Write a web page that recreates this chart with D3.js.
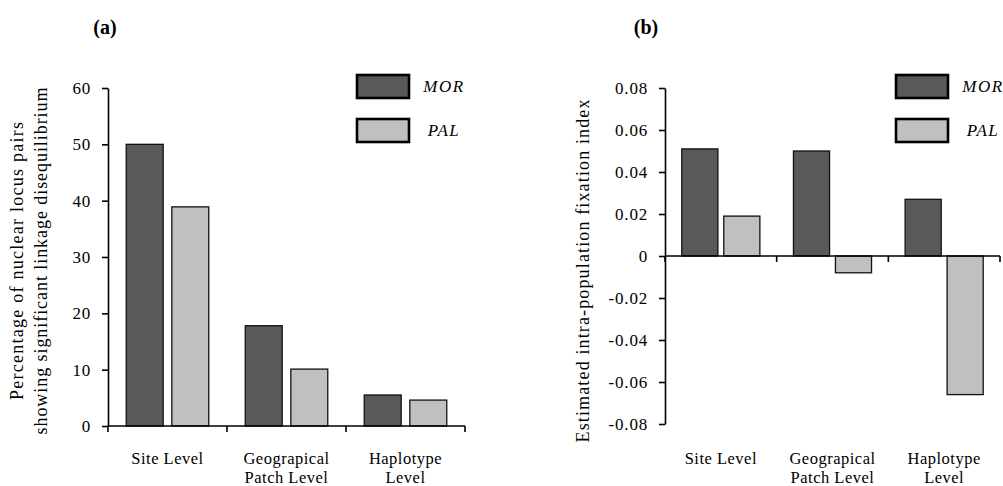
<!DOCTYPE html>
<html>
<head>
<meta charset="utf-8">
<script src="https://cdn.jsdelivr.net/npm/d3@7"></script>
<style>
  html, body { margin: 0; padding: 0; background: #fff; }
  svg { display: block; }
  text { font-family: "Liberation Serif", "Times New Roman", Times, serif; fill: #000; }
</style>
</head>
<body>
<svg id="chart" width="1003" height="486"></svg>
<script>
// Grouping levels shared by both panels
const levels = ["Site Level", "Geograpical Patch Level", "Haplotype Level"];
const levelLines = [["Site Level"], ["Geograpical", "Patch Level"], ["Haplotype", "Level"]];
const series = ["MOR", "PAL"];
const seriesColors = ["#595959", "#c0c0c0"];

// Panel (a): percentage of nuclear locus pairs in significant linkage disequilibrium
const ldMOR = [50, 17.8, 5.5];
const ldPAL = [38.9, 10.1, 4.6];
const ldTicks = [0, 10, 20, 30, 40, 50, 60];

// Panel (b): estimated intra-population fixation index
const fisMOR = [0.051, 0.050, 0.027];
const fisPAL = [0.019, -0.008, -0.066];
const fisTicks = [-0.08, -0.06, -0.04, -0.02, 0, 0.02, 0.04, 0.06, 0.08];

const svg = d3.select("#chart");
const serif = '"Liberation Serif", "Times New Roman", Times, serif';

function drawPanel(cfg) {
  const g = svg.append("g");
  const y = d3.scaleLinear().domain(cfg.domain).range([cfg.bottom, cfg.top]);
  const x0 = d3.scaleBand().domain(levels).range([cfg.left, cfg.right])
    .paddingInner(0).paddingOuter(0);
  const x1 = d3.scaleBand().domain(series).range([0, x0.bandwidth()])
    .paddingInner(cfg.padIn).paddingOuter(cfg.padOut);
  const values = [cfg.mor, cfg.pal];

  // bars
  levels.forEach((lv, i) => {
    series.forEach((s, j) => {
      const v = values[j][i];
      g.append("rect")
        .attr("x", x0(lv) + x1(s))
        .attr("width", x1.bandwidth())
        .attr("y", Math.min(y(v), y(0)))
        .attr("height", Math.abs(y(v) - y(0)))
        .attr("fill", seriesColors[j])
        .attr("stroke", "#111")
        .attr("stroke-width", 1.3);
    });
  });

  // y axis
  const yAxis = d3.axisLeft(y).tickValues(cfg.ticks).tickSize(6).tickSizeOuter(0)
    .tickFormat(cfg.fmt);
  const ya = g.append("g").attr("transform", `translate(${cfg.left},0)`).call(yAxis);
  ya.attr("font-family", null).attr("font-size", null);
  ya.select(".domain").attr("stroke", "#000").attr("stroke-width", 1.6);
  ya.selectAll(".tick line").attr("stroke", "#000").attr("stroke-width", 1.6);
  ya.selectAll(".tick text")
    .attr("x", -17)
    .style("font-family", serif)
    .style("font-size", "17px")
    .style("letter-spacing", "0.8px")
    .attr("fill", "#000");

  // x axis line at zero with boundary ticks
  const y0 = y(0);
  g.append("line")
    .attr("x1", cfg.left).attr("x2", cfg.right)
    .attr("y1", y0).attr("y2", y0)
    .attr("stroke", "#000").attr("stroke-width", 1.6);
  const bounds = levels.map(l => x0(l)).concat([cfg.right]);
  bounds.forEach(bx => {
    g.append("line")
      .attr("x1", bx).attr("x2", bx)
      .attr("y1", y0).attr("y2", y0 + 6)
      .attr("stroke", "#000").attr("stroke-width", 1.6);
  });

  // category labels
  levels.forEach((lv, i) => {
    const cx = x0(lv) + x0.bandwidth() / 2;
    levelLines[i].forEach((line, k) => {
      g.append("text")
        .attr("x", cx)
        .attr("y", cfg.labelY + k * 19)
        .attr("text-anchor", "middle")
        .style("font-size", "16.5px")
        .style("letter-spacing", "0.5px")
        .text(line);
    });
  });

  // y axis title
  cfg.yTitle.forEach((line, k) => {
    g.append("text")
      .attr("transform", `translate(${cfg.yTitleX[k]},${cfg.yTitleY}) rotate(-90)`)
      .attr("text-anchor", "middle")
      .style("font-size", "18px")
      .attr("textLength", cfg.yTitleLen[k])
      .attr("lengthAdjust", "spacing")
      .text(line);
  });

  // panel letter
  g.append("text")
    .attr("x", cfg.letterX).attr("y", 34)
    .attr("text-anchor", "middle")
    .style("font-size", "20px")
    .style("font-weight", "bold")
    .text(cfg.letter);

  // legend
  series.forEach((s, j) => {
    const by = 75 + j * 44;
    g.append("rect")
      .attr("x", cfg.legendX).attr("y", by)
      .attr("width", 52).attr("height", 23)
      .attr("fill", seriesColors[j])
      .attr("stroke", "#000").attr("stroke-width", 2.6);
    g.append("text")
      .attr("x", cfg.legendX + 26 + 61)
      .attr("y", by + 17)
      .attr("text-anchor", "middle")
      .style("font-size", "17px")
      .style("font-style", "italic")
      .style("letter-spacing", "1.5px")
      .text(s);
  });
}

drawPanel({
  domain: [0, 60], top: 88, bottom: 426, left: 108, right: 465,
  padIn: 0.19, padOut: 0.4,
  mor: ldMOR, pal: ldPAL, ticks: ldTicks, fmt: d3.format("d"),
  labelY: 464,
  yTitle: ["Percentage of nuclear locus pairs", "showing significant linkage disequilibrium"],
  yTitleX: [23, 47], yTitleY: 261, yTitleLen: [278, 347],
  letter: "(a)", letterX: 105,
  legendX: 357
});

drawPanel({
  domain: [-0.08, 0.08], top: 88, bottom: 424, left: 665, right: 1000,
  padIn: 0.14, padOut: 0.4,
  mor: fisMOR, pal: fisPAL, ticks: fisTicks,
  fmt: v => v === 0 ? "0" : d3.format(".2f")(v).replace("−", "-"),
  labelY: 464,
  yTitle: ["Estimated intra-population fixation index"],
  yTitleX: [589], yTitleY: 271, yTitleLen: [343],
  letter: "(b)", letterX: 646,
  legendX: 896
});
</script>
</body>
</html>
